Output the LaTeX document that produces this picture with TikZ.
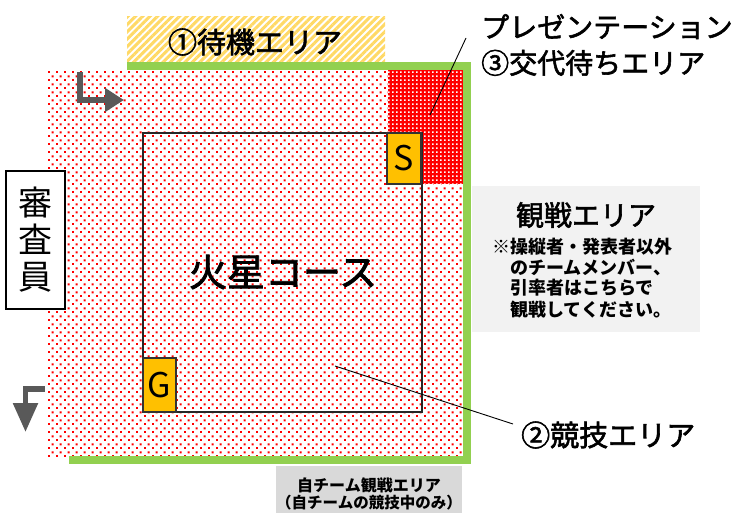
\documentclass[tikz,border=0pt]{standalone}
\usepackage{fontspec}
\setmainfont{Noto Sans CJK JP}
\newfontfamily\medfont{Noto Sans CJK JP}[FakeBold=2]
\usetikzlibrary{patterns.meta,arrows.meta}
\definecolor{grn}{HTML}{92D050}
\definecolor{hatchy}{HTML}{FFD966}
\definecolor{arrowgray}{HTML}{595959}
\definecolor{gold}{HTML}{FFC000}
\definecolor{lightgray}{HTML}{F2F2F2}
\definecolor{midgray}{HTML}{D9D9D9}
\definecolor{dotred}{HTML}{FF0000}
\tikzdeclarepattern{
  name=reddots,
  type=uncolored,
  bounding box={(0pt,0pt) and (8pt,8pt)},
  tile size={(8pt,8pt)},
  code={
    \fill (0pt,0pt) rectangle (2.2pt,2.2pt);
    \fill (4pt,4pt) rectangle (6.2pt,6.2pt);
  }
}
\tikzdeclarepattern{
  name=whitedots,
  type=uncolored,
  bounding box={(0pt,0pt) and (4pt,4pt)},
  tile size={(4pt,4pt)},
  code={
    \fill (0pt,0pt) rectangle (2pt,2pt);
  }
}
\begin{document}
\begin{tikzpicture}[x=1pt,y=-1pt,
  area/.style={draw=none,inner sep=0pt,outer sep=0pt,anchor=north west},
  leader/.style={draw=black,line width=0.9pt},
  bigtxt/.style={font=\medfont\fontsize{29}{34}\selectfont,inner sep=0pt},
  smalltxt/.style={font=\bfseries\fontsize{18}{21}\selectfont,inner sep=0pt,anchor=west},
  turnarrow/.style={draw=arrowgray,line width=5.5pt,line join=miter},
  markbox/.style={area,draw=black!80,line width=1.5pt,fill=gold,font=\fontsize{34}{34}\selectfont}
]
\useasboundingbox (0,0) rectangle (746,512);

% background areas
\node[area,fill=lightgray,minimum width=228pt,minimum height=146pt] (watch) at (472,186) {};
\node[area,fill=midgray,minimum width=186pt,minimum height=50pt] (own) at (276,466) {};
\node[area,pattern={Lines[angle=45,distance=5.2pt,line width=3pt]},pattern color=hatchy,minimum width=258pt,minimum height=46pt] (standby) at (127,16) {};

% competition field (dotted)
\node[area,pattern=reddots,pattern color=dotred,minimum width=416pt,minimum height=386pt] (field) at (47,70) {};

% presentation / waiting area (dense red)
\node[area,fill=red,minimum width=75pt,minimum height=114pt] (wait) at (388,70) {};
\fill[pattern=whitedots,pattern color=white] (wait.north west) rectangle (wait.south east);

% green border
\draw[grn,line width=8pt,line join=miter] (127,66) -- (467,66) -- (467,460) -- (69,460);

% course
\node[area,draw=black!85,line width=2pt,minimum width=279pt,minimum height=279pt] (course) at (143,133) {};
\node[markbox,minimum width=34pt,minimum height=51pt] (S) at (387,133) {S};
\node[markbox,minimum width=33pt,minimum height=54pt] (G) at (143,358) {G};
\node[font=\medfont\fontsize{38}{40}\selectfont,inner sep=0pt] (mars) at (283,272) {火星コース};

% judges
\node[draw=black,line width=1.5pt,fill=white,inner sep=0pt,minimum width=59pt,minimum height=138pt,anchor=north west,align=center,font=\fontsize{34}{37}\selectfont] (judge) at (5,170) {審\\査\\員};

% turn arrows
\draw[turnarrow,-{Triangle[length=19pt,width=23pt]}] (80,72) -- (80,100) -- (124,100);
\draw[turnarrow,-{Triangle[length=29pt,width=24pt]}] (45,389) -- (25.5,389) -- (25.5,432);

% labels
\node[bigtxt] (standbylbl) at (255,42) {①待機エリア};
\node[font=\medfont\fontsize{28}{36}\selectfont,inner sep=0pt,anchor=west,align=left] (pres) at (481,45) {プレゼンテーション\\③交代待ちエリア};
\node[font=\medfont\fontsize{28}{30}\selectfont,inner sep=0pt] (watchttl) at (586,215) {観戦エリア};
\node[smalltxt] (w1) at (492,247) {※操縦者・発表者以外};
\node[smalltxt] (w2) at (510,267) {のチームメンバー、};
\node[smalltxt] (w3) at (510,288) {引率者はこちらで};
\node[smalltxt] (w4) at (510,310) {観戦してください。};
\node[bigtxt,anchor=west] (comp) at (521,435) {②競技エリア};
\node[font=\bfseries\fontsize{16}{18}\selectfont,inner sep=0pt] (own1) at (369,485) {自チーム観戦エリア};
\node[font=\bfseries\fontsize{15.5}{18}\selectfont,inner sep=0pt] (own2) at (369,503) {（自チームの競技中のみ）};

% leader lines
\coordinate (presend) at (466,38);
\coordinate (waitpt) at (430,115);
\coordinate (compend) at (513,424);
\coordinate (fieldpt) at (335,366);
\draw[leader] (presend) -- (waitpt);
\draw[leader] (compend) -- (fieldpt);
\end{tikzpicture}
\end{document}
